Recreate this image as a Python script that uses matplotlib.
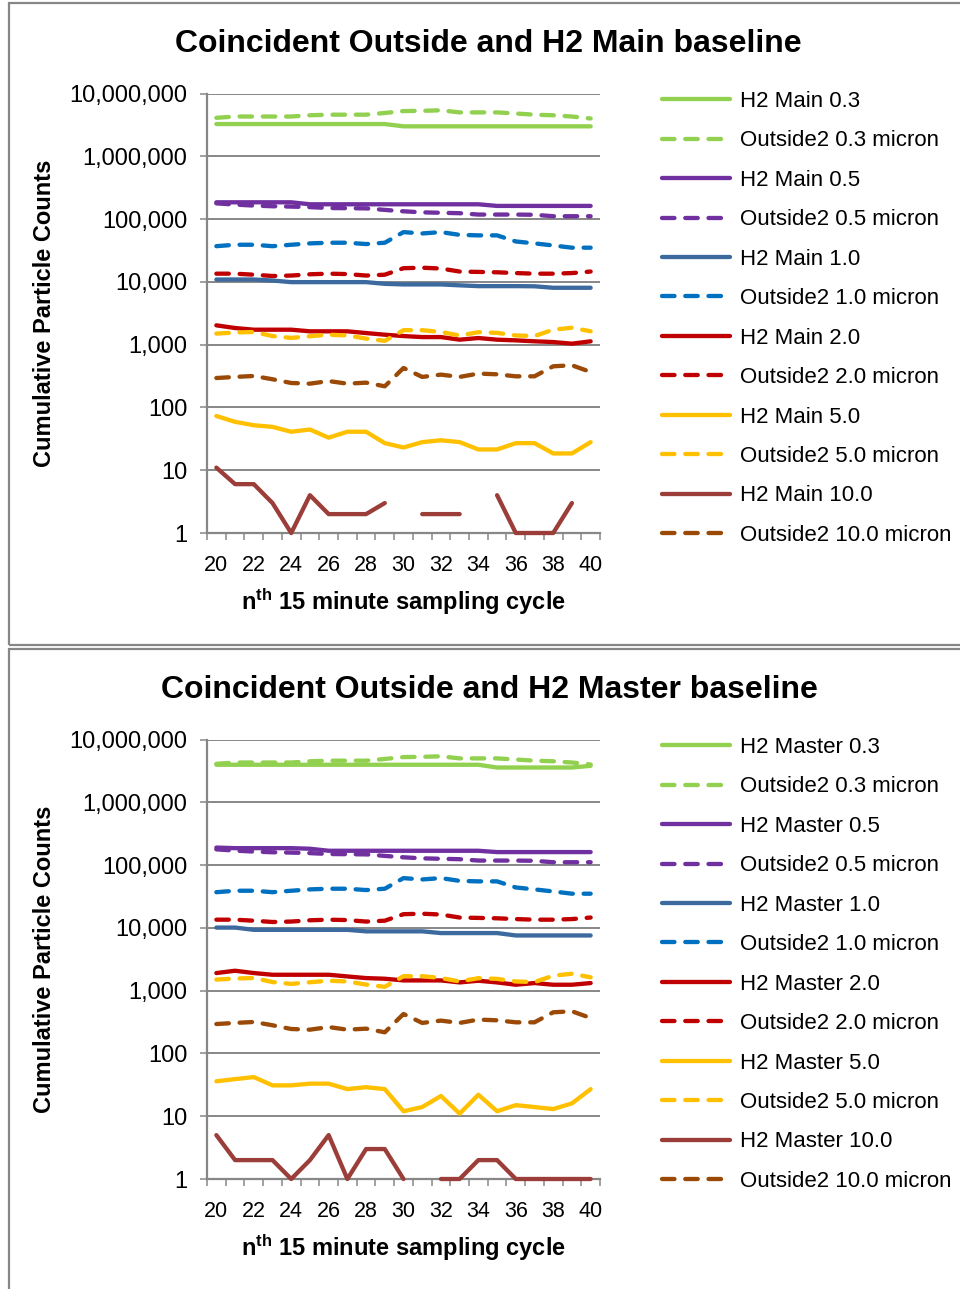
import matplotlib
matplotlib.use('Agg')
import matplotlib.pyplot as plt
import numpy as np
from matplotlib.patches import Rectangle
from matplotlib.ticker import FixedLocator, FuncFormatter, NullLocator

plt.rcParams['font.family'] = ['Liberation Sans', 'DejaVu Sans']
plt.rcParams['mathtext.fontset'] = 'custom'
plt.rcParams['mathtext.rm'] = 'Liberation Sans'
plt.rcParams['mathtext.bf'] = 'Liberation Sans:bold'

nan = np.nan

# ---------------- data ----------------
cycles = list(range(20, 41))
tick_labels = [str(c) for c in range(20, 41, 2)]
y_ticks = [1, 10, 100, 1000, 10000, 100000, 1000000, 10000000]

# Outside2 (shared by both charts)
out_03 = [4.1e6, 4.3e6, 4.3e6, 4.3e6, 4.3e6, 4.5e6, 4.6e6, 4.6e6, 4.6e6, 4.9e6, 5.25e6,
          5.3e6, 5.4e6, 5.0e6, 5.0e6, 5.0e6, 4.8e6, 4.6e6, 4.5e6, 4.3e6, 4.0e6]
out_05 = [178e3, 170e3, 164e3, 160e3, 158e3, 155e3, 150e3, 149e3, 148e3, 140e3, 133e3,
          128e3, 126e3, 124e3, 118e3, 118e3, 118e3, 117e3, 111e3, 111e3, 111e3]
out_10 = [37e3, 39e3, 39e3, 37e3, 39e3, 41e3, 42e3, 42e3, 40e3, 42e3, 62e3,
          59e3, 62e3, 56e3, 55e3, 55e3, 44e3, 41e3, 38e3, 35e3, 35e3]
out_20 = [13.5e3, 13.5e3, 13.0e3, 12.4e3, 12.6e3, 13.2e3, 13.5e3, 13.3e3, 12.6e3, 13.0e3, 16.5e3,
          16.8e3, 16.3e3, 14.6e3, 14.4e3, 14.2e3, 13.8e3, 13.5e3, 13.5e3, 13.8e3, 14.6e3]
out_50 = [1500, 1560, 1590, 1370, 1280, 1360, 1440, 1400, 1250, 1150, 1700,
          1700, 1590, 1400, 1580, 1540, 1400, 1370, 1730, 1860, 1630]
out_100 = [294, 306, 317, 281, 245, 239, 263, 239, 248, 217, 425,
           306, 333, 306, 346, 337, 313, 313, 452, 469, 367]

# H2 Main
main_03 = [3.26e6] * 10 + [3.0e6] * 11
main_05 = [185e3] * 5 + [172e3] * 10 + [162e3] * 6
main_10 = [10.9e3, 10.9e3, 10.9e3, 10.5e3, 9.9e3, 9.9e3, 9.9e3, 9.9e3, 9.9e3, 9.3e3, 9.1e3,
           9.1e3, 9.1e3, 8.8e3, 8.55e3, 8.55e3, 8.55e3, 8.5e3, 8.05e3, 8.05e3, 8.05e3]
main_20 = [2030, 1840, 1730, 1730, 1730, 1630, 1630, 1630, 1530, 1440, 1370,
           1320, 1320, 1200, 1275, 1200, 1170, 1130, 1100, 1036, 1130]
main_50 = [73, 59, 52, 49, 41, 44.5, 33, 41, 41, 27, 23,
           28, 30, 28, 21.4, 21.4, 27, 27, 18.5, 18.5, 28]
main_100 = [11, 6, 6, 3, 1, 4, 2, 2, 2, 3, nan, 2, 2, 2, nan, 4, 1, 1, 1, 3, nan]

# H2 Master
master_03 = [3.96e6] * 15 + [3.58e6] * 5 + [3.81e6]
master_05 = [190e3, 186e3, 186e3, 186e3, 186e3, 182e3] + [169e3] * 9 + [161e3] * 6
master_10 = [10.1e3, 10.1e3] + [9.3e3] * 6 + [8.8e3] * 4 + [8.26e3] * 4 + [7.57e3] * 5
master_20 = [1906, 2075, 1906, 1791, 1791, 1791, 1791, 1684, 1585, 1548, 1455,
             1455, 1455, 1352, 1438, 1352, 1242, 1321, 1242, 1242, 1321]
master_50 = [36, 39, 42, 31, 31, 33, 33, 27, 29, 27, 12, 14, 21, 11, 22, 12, 15, 14, 13, 16, 27]
master_100 = [5, 2, 2, 2, 1, 2, 5, 1, 3, 3, 1, nan, 1, 1, 2, 2, 1, 1, 1, 1, 1]

sizes = ['0.3', '0.5', '1.0', '2.0', '5.0', '10.0']
colors_solid = ['#92D050', '#7030A0', '#3D6A9E', '#C00000', '#FFC000', '#9B3D38']
colors_dash = ['#92D050', '#7030A0', '#0070C0', '#C00000', '#FFC000', '#9A4A06']

main_series = [main_03, main_05, main_10, main_20, main_50, main_100]
master_series = [master_03, master_05, master_10, master_20, master_50, master_100]
out_series = [out_03, out_05, out_10, out_20, out_50, out_100]

# ---------------- layout ----------------
W, H = 960, 1289
fig = plt.figure(figsize=(W / 100, H / 100), dpi=100)
GREY = '#878787'
LW = 3.1
DASH = (2.9, 2.5)


def fx(px):
    return px / W


def fy(py):
    return 1 - py / H


def panel(top, title, h2name, h2data, title_x):
    # outer frame
    fig.add_artist(Rectangle((fx(9), fy(top + 642)), fx(980 - 9), (642) / H,
                             transform=fig.transFigure, fill=False,
                             edgecolor=GREY, linewidth=1.6))
    ax_top = top + 90.5
    ax_bot = top + 530
    ax = fig.add_axes([fx(207), fy(ax_bot), fx(600 - 207), (ax_bot - ax_top) / H])
    x = np.arange(len(cycles))
    handles = []
    labels = []
    for i in range(6):
        l1, = ax.plot(x, h2data[i], color=colors_solid[i], lw=LW,
                      solid_capstyle='round', solid_joinstyle='round',
                      clip_on=False, zorder=3)
        l2, = ax.plot(x, out_series[i], color=colors_dash[i], lw=LW,
                      linestyle=(0, DASH), dash_capstyle='round',
                      dash_joinstyle='round', clip_on=False, zorder=3)
        handles += [l1, l2]
        labels += [f'{h2name} {sizes[i]}', f'Outside2 {sizes[i]} micron']

    ax.set_yscale('log')
    ax.set_ylim(1, 1e7)
    ax.set_xlim(-0.5, len(cycles) - 0.5)
    ax.yaxis.set_major_locator(FixedLocator(y_ticks))
    ax.yaxis.set_minor_locator(NullLocator())
    ax.yaxis.set_major_formatter(FuncFormatter(lambda v, p: f'{int(round(v)):,}'))
    ax.set_xticks(np.arange(0, len(cycles), 2))
    ax.set_xticklabels(tick_labels)
    ax.xaxis.set_minor_locator(FixedLocator(np.arange(-0.5, len(cycles), 1.0)))
    ax.tick_params(axis='x', which='major', length=0, pad=15.5, labelsize=15.5)
    ax.tick_params(axis='x', which='minor', length=5, width=1.1, color=GREY, direction='out')
    ax.tick_params(axis='y', which='major', length=5, width=1.1, color=GREY,
                   direction='out', pad=9, labelsize=17)
    for s in ['top', 'right']:
        ax.spines[s].set_visible(False)
    for s in ['left', 'bottom']:
        ax.spines[s].set_color(GREY)
        ax.spines[s].set_linewidth(1.6)
    ax.grid(True, axis='y', which='major', color=GREY, linewidth=1.4)
    ax.set_axisbelow(True)

    ax.set_xlabel(r'$\mathbf{n^{th}}$ 15 minute sampling cycle', fontsize=17,
                  fontweight='bold')
    ax.xaxis.set_label_coords(0.5, -(586 - 533) / (ax_bot - ax_top))
    fig.text(fx(45), fy(top + 310), 'Cumulative Particle Counts', rotation=90,
             ha='center', va='center', fontsize=17, fontweight='bold')
    fig.text(fx(title_x), fy(top + 41), title, ha='center', va='center',
             fontsize=23, fontweight='bold')

    ax.legend(handles, labels, loc='upper left',
              bbox_to_anchor=(fx(662), fy(top + 88)), bbox_transform=fig.transFigure,
              frameon=False, fontsize=16, handlelength=3.05, handletextpad=0.45,
              labelspacing=0.83, borderpad=0, borderaxespad=0)
    return ax


panel(3, 'Coincident Outside and H2 Main baseline', 'H2 Main', main_series, 488)
panel(649, 'Coincident Outside and H2 Master baseline', 'H2 Master', master_series, 489)

fig.savefig('out.png', dpi=100)
